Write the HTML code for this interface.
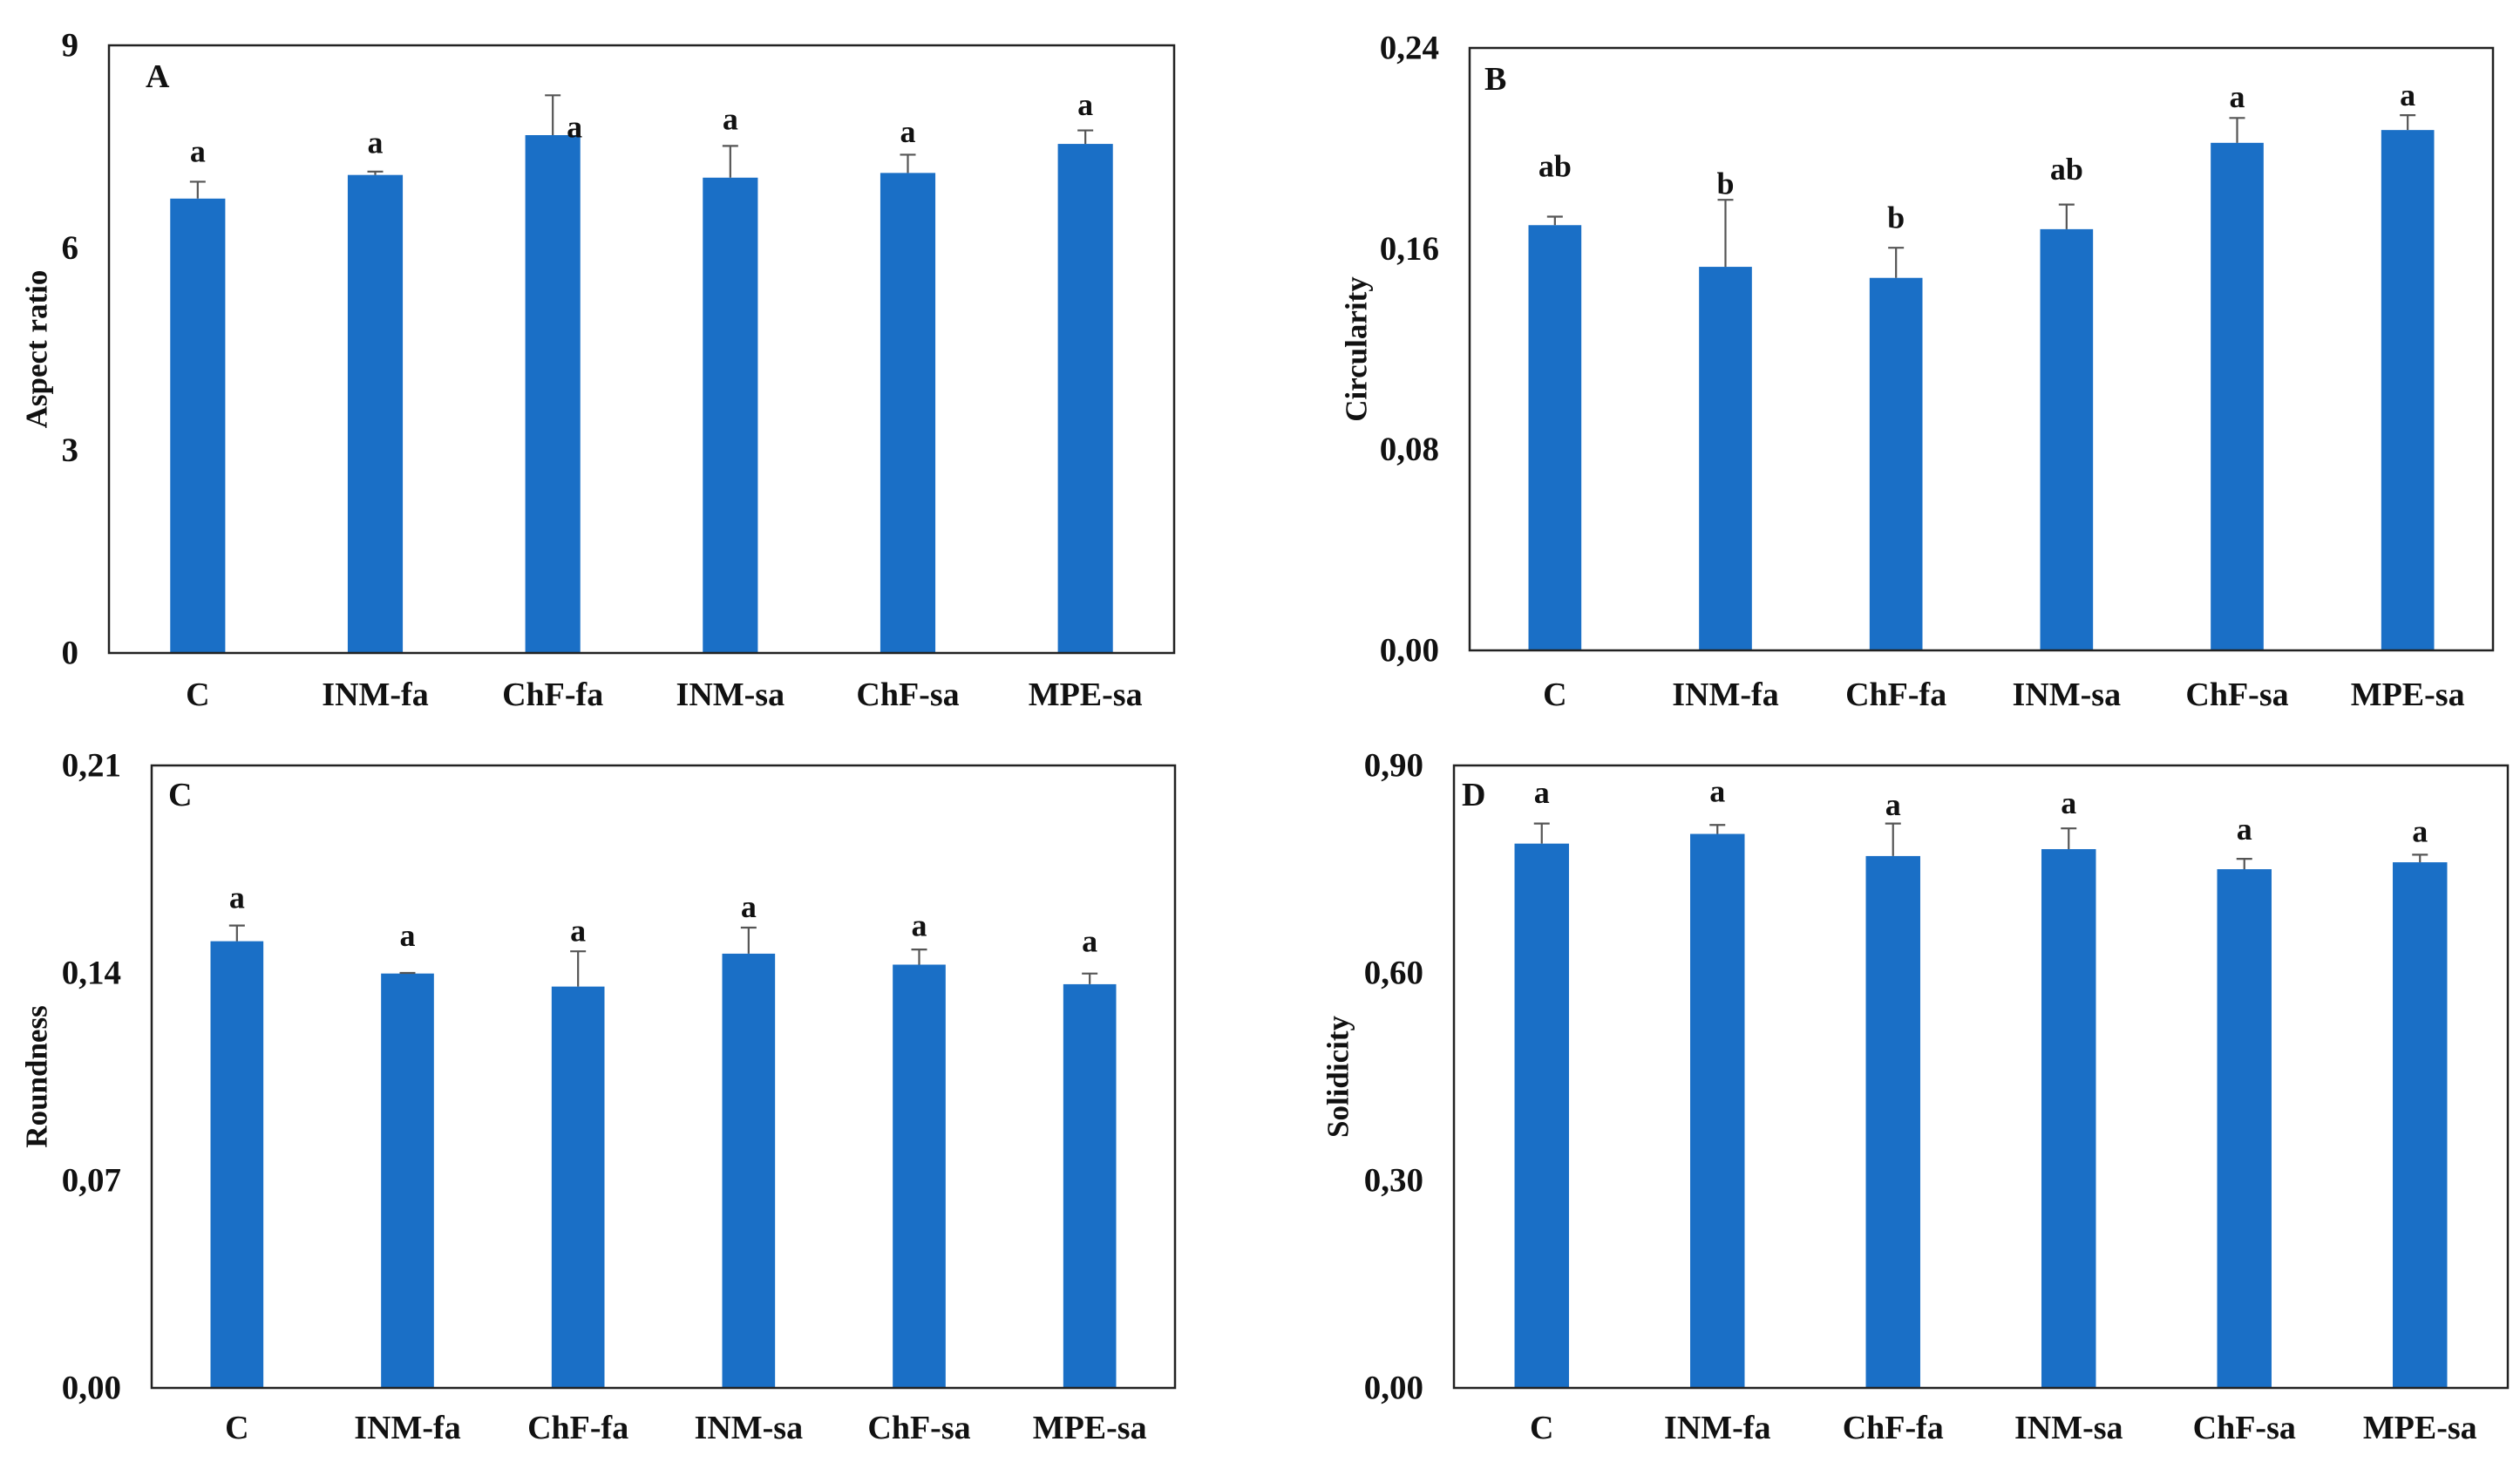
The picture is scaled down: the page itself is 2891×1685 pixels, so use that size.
<!DOCTYPE html>
<html><head><meta charset="utf-8">
<style>
html,body{margin:0;padding:0;background:#fff;}
svg{display:block;}
text{font-family:"Liberation Serif","Times New Roman",serif;font-weight:bold;fill:#111;}
</style></head>
<body>
<svg id="fig" width="2891" height="1685" viewBox="0 0 2891 1685" xmlns="http://www.w3.org/2000/svg"></svg>
<script>
const categories = ["C","INM-fa","ChF-fa","INM-sa","ChF-sa","MPE-sa"];
const aspectValues = [6.73,7.08,7.67,7.04,7.11,7.54];
const aspectErrTop = [6.98,7.13,8.26,7.51,7.38,7.74];
const aspectLetters = ["a","a","a","a","a","a"];
const aspectLetterPos = [7.43,7.56,7.79,7.91,7.72,8.12];
const aspectTicks = ["0","3","6","9"];
const circValues = [0.1694,0.1528,0.1484,0.1678,0.2022,0.2073];
const circErrTop = [0.1728,0.1795,0.1604,0.1776,0.2121,0.2132];
const circLetters = ["ab","b","b","ab","a","a"];
const circLetterPos = [0.193,0.186,0.1725,0.1917,0.2205,0.2212];
const circTicks = ["0,00","0,08","0,16","0,24"];
const roundValues = [0.1507,0.1398,0.1354,0.1465,0.1428,0.1362];
const roundErrTop = [0.156,0.1400,0.1473,0.1553,0.1479,0.1398];
const roundLetters = ["a","a","a","a","a","a"];
const roundLetterPos = [0.1654,0.1527,0.1543,0.1623,0.156,0.1507];
const roundTicks = ["0,00","0,07","0,14","0,21"];
const solValues = [0.787,0.801,0.769,0.779,0.750,0.760];
const solErrTop = [0.816,0.814,0.816,0.809,0.765,0.771];
const solLetters = ["a","a","a","a","a","a"];
const solLetterPos = [0.861,0.863,0.843,0.846,0.808,0.805];
const solTicks = ["0,00","0,30","0,60","0,90"];

const NS="http://www.w3.org/2000/svg";
const svg=document.getElementById("fig");
function mk(tag,attrs,parent){const e=document.createElementNS(NS,tag);for(const k in attrs)e.setAttribute(k,attrs[k]);(parent||svg).appendChild(e);return e;}

function panel(cfg){
  const g=mk("g",{});
  
  
  const L=cfg.left,R=cfg.right,T=cfg.top,B=cfg.bottom;
  const y=v=>B-(v/cfg.max)*(B-T);
  const band=(R-L)/categories.length;
  const x=i=>L+band*(i+0.5);
  const bw=band*0.31;
  categories.forEach((c,i)=>{
    const bar=mk("rect",{x:x(i)-bw/2,y:y(cfg.values[i]),width:bw,height:B-y(cfg.values[i]),fill:"#1a6fc6"},g);
    
    
    const eb=mk("path",{d:`M${x(i)} ${y(cfg.values[i])}V${y(cfg.err[i])}M${x(i)-9} ${y(cfg.err[i])}H${x(i)+9}`,stroke:"#555",["stroke-width"]:2.2,fill:"none"},g);
    
    
    const lx=x(i)+((cfg.letterDx&&cfg.letterDx[i])||0);
    const lt=mk("text",{x:lx,y:y(cfg.letterPos[i]),"text-anchor":"middle","dominant-baseline":"central","font-size":36},g);
    lt.textContent=cfg.letters[i];
    
    
    const cl=mk("text",{x:x(i),y:cfg.catY,"text-anchor":"middle","dominant-baseline":"central","font-size":38},g);
    cl.textContent=c;
    
    
  });
  cfg.ticks.forEach((t,k)=>{
    const v=cfg.max*k/(cfg.ticks.length-1);
    const tt=mk("text",{x:L-35,y:y(v),"text-anchor":"end","dominant-baseline":"central","font-size":39},g);
    tt.textContent=t;
    
    
  });
  const box=mk("rect",{x:L,y:T,width:R-L,height:B-T,fill:"none",stroke:"#222","stroke-width":2.5},g);
  
  
  const pl=mk("text",{x:cfg.letterX,y:cfg.letterY,"dominant-baseline":"central","font-size":38},g);
  pl.textContent=cfg.panelLetter;
  
  
  const at=mk("text",{x:cfg.titleX,y:(T+B)/2,"text-anchor":"middle","dominant-baseline":"central","font-size":35,transform:`rotate(-90 ${cfg.titleX} ${(T+B)/2})`},g);
  at.textContent=cfg.title;
  
  
}

panel({id:"aspect-ratio",left:125,right:1347,top:52,bottom:749,max:9,values:aspectValues,err:aspectErrTop,letters:aspectLetters,letterPos:aspectLetterPos,letterDx:[0,0,25,0,0,0],ticks:aspectTicks,catY:797,panelLetter:"A",letterX:167,letterY:88,title:"Aspect ratio",titleX:42});
panel({id:"circularity",left:1686,right:2860,top:55,bottom:746,max:0.24,values:circValues,err:circErrTop,letters:circLetters,letterPos:circLetterPos,ticks:circTicks,catY:797,panelLetter:"B",letterX:1703,letterY:91,title:"Circularity",titleX:1556});
panel({id:"roundness",left:174,right:1348,top:878,bottom:1592,max:0.21,values:roundValues,err:roundErrTop,letters:roundLetters,letterPos:roundLetterPos,ticks:roundTicks,catY:1638,panelLetter:"C",letterX:193,letterY:912,title:"Roundness",titleX:42});
panel({id:"solidicity",left:1668,right:2877,top:878,bottom:1592,max:0.9,values:solValues,err:solErrTop,letters:solLetters,letterPos:solLetterPos,ticks:solTicks,catY:1638,panelLetter:"D",letterX:1677,letterY:912,title:"Solidicity",titleX:1535});
</script>
</body></html>
